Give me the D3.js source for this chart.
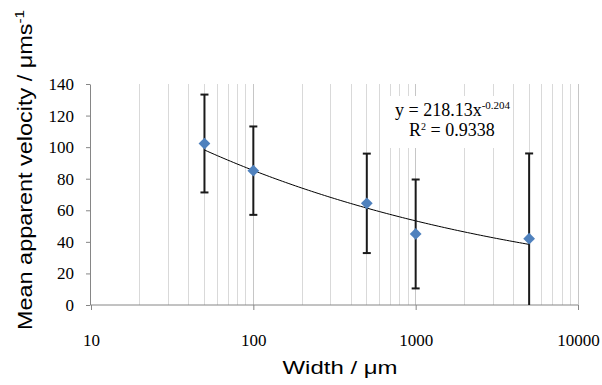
<!DOCTYPE html>
<html><head><meta charset="utf-8">
<script src="https://cdn.jsdelivr.net/npm/d3@7"></script>
<style>body{margin:0;background:#fff}svg{display:block}</style>
</head><body><svg id="c" width="602" height="385"></svg>
<script>
const widths = [50, 100, 500, 1000, 5000];
const velocity = [102.3, 85.1, 64.4, 45.0, 42.0];
const errors = [31.0, 28.0, 31.5, 34.5, 54.0];
const xTicks = [10, 100, 1000, 10000];
const yTicks = [0, 20, 40, 60, 80, 100, 120, 140];
const fitA = 218.13, fitB = -0.204;
const eqText = "y = 218.13x", eqExp = "-0.204", r2Text = "0.9338";

const serif = "'Liberation Serif', 'Times New Roman', serif";
const sans = "'Liberation Sans', Arial, sans-serif";
const svg = d3.select("#c");
const x = d3.scaleLog().domain([10, 10000]).range([91, 578]);
const y = d3.scaleLinear().domain([0, 140]).range([305, 84]).clamp(true);

// gridlines (major + minor)
const grid = [];
for (let d = 10; d < 10000; d *= 10) for (let k = 1; k <= 9; k++) grid.push(d * k);
grid.push(10000);
svg.append("g").selectAll("line").data(grid.filter(v => v > 10)).join("line")
  .attr("x1", d => x(d)).attr("x2", d => x(d))
  .attr("y1", y(140)).attr("y2", y(0))
  .attr("stroke", d => xTicks.includes(d) ? "#c6c6c6" : "#d9d9d9").attr("stroke-width", 1)
  .attr("shape-rendering", "crispEdges");

// x axis
const xAxis = d3.axisBottom(x).tickValues(xTicks).tickFormat(d3.format("d")).tickSize(5).tickSizeOuter(0);
const gx = svg.append("g").attr("transform", `translate(0,${y(0)})`).call(xAxis)
  .attr("font-family", serif).attr("font-size", 17);
gx.select(".domain").attr("stroke", "#868686").attr("d", `M${x(10)},0H${x(10000)}`);
gx.selectAll(".tick line").attr("stroke", "#868686");
gx.selectAll(".tick text").attr("font-family", serif).attr("font-size", 17)
  .attr("fill", "#000").attr("y", 41).attr("dy", 0);

// y axis
const yAxis = d3.axisLeft(y).tickValues(yTicks).tickSize(4).tickSizeOuter(0);
const gy = svg.append("g").attr("transform", `translate(${x(10) - 1},0)`).call(yAxis)
  .attr("font-family", serif).attr("font-size", 17);
gy.select(".domain").attr("stroke", "#868686");
gy.selectAll(".tick line").attr("stroke", "#868686");
gy.selectAll(".tick text").attr("font-family", serif).attr("font-size", 17)
  .attr("fill", "#000").attr("x", -16);

// trendline
const fitPts = d3.range(0, 101).map(i => {
  const xv = Math.pow(10, Math.log10(50) + i / 100 * (Math.log10(5000) - Math.log10(50)));
  return [xv, fitA * Math.pow(xv, fitB)];
});
svg.append("path").datum(fitPts)
  .attr("d", d3.line().x(d => x(d[0])).y(d => y(d[1])))
  .attr("fill", "none").attr("stroke", "#000").attr("stroke-width", 1);

// error bars
const eb = svg.append("g").attr("stroke", "#1a1a1a").attr("stroke-width", 2);
widths.forEach((w, i) => {
  const hi = velocity[i] + errors[i], lo = velocity[i] - errors[i];
  eb.append("line").attr("x1", x(w)).attr("x2", x(w)).attr("y1", y(hi)).attr("y2", y(lo));
  eb.append("line").attr("x1", x(w) - 4).attr("x2", x(w) + 4).attr("y1", y(hi)).attr("y2", y(hi));
  if (lo > 0) eb.append("line").attr("x1", x(w) - 4).attr("x2", x(w) + 4).attr("y1", y(lo)).attr("y2", y(lo));
});

// markers
svg.append("g").selectAll("path").data(widths).join("path")
  .attr("d", d3.symbol(d3.symbolDiamond2, 88)())
  .attr("transform", (d, i) => `translate(${x(d)},${y(velocity[i])})`)
  .attr("fill", "#4F81BD");

// equation label with white box
svg.append("rect").attr("x", 383).attr("y", 96).attr("width", 129).attr("height", 52).attr("fill", "#fff");
const eq = svg.append("text").attr("x", 395).attr("y", 116)
  .attr("font-family", serif).attr("font-size", 18).attr("fill", "#000");
eq.append("tspan").text(eqText);
eq.append("tspan").attr("font-size", 11).attr("dy", -7).text(eqExp);
const r2 = svg.append("text").attr("x", 409).attr("y", 136)
  .attr("font-family", serif).attr("font-size", 18).attr("fill", "#000");
r2.append("tspan").text("R");
r2.append("tspan").attr("font-size", 10).attr("dy", -6).text("2");
r2.append("tspan").attr("dy", 6).text(" = " + r2Text);

// axis titles
svg.append("text").attr("x", 340).attr("y", 374).attr("text-anchor", "middle")
  .attr("font-family", sans).attr("font-size", 19).attr("fill", "#000")
  .attr("textLength", 115).attr("lengthAdjust", "spacingAndGlyphs")
  .text("Width / \u03bcm");

const yl = svg.append("text").attr("transform", "translate(32,330) rotate(-90)")
  .attr("font-family", sans).attr("font-size", 20).attr("fill", "#000")
  .attr("textLength", 320).attr("lengthAdjust", "spacingAndGlyphs");
yl.append("tspan").text("Mean apparent velocity / \u03bcms");
yl.append("tspan").attr("font-size", 13).attr("dy", -8).text("-1");
</script></body></html>
